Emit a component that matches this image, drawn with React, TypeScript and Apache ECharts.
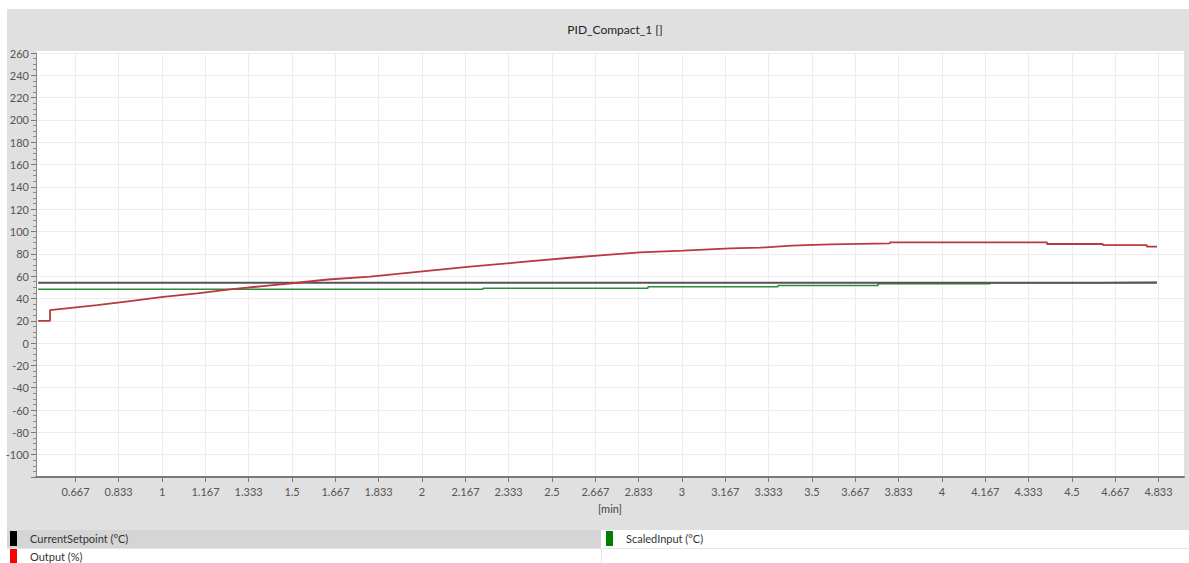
import React, { useEffect, useRef } from "react";
import * as echarts from "echarts";

const chartTitle = "PID_Compact_1 []";
const xAxisName = "[min]";
const seriesNames = ["CurrentSetpoint (°C)", "Output (%)", "ScaledInput (°C)"];

// x tick values (minutes)
const xTickValues = [
  0.667, 0.833, 1, 1.167, 1.333, 1.5, 1.667, 1.833, 2, 2.167, 2.333, 2.5, 2.667, 2.833,
  3, 3.167, 3.333, 3.5, 3.667, 3.833, 4, 4.167, 4.333, 4.5, 4.667, 4.833,
];

// CurrentSetpoint (°C)
const setpointTime = [0.523, 4.827];
const setpointValue = [54, 54];

// Output (%)
const outputTime = [
  0.523, 0.569, 0.569, 0.75, 0.877, 1.004, 1.135, 1.262, 1.388, 1.519, 1.638, 1.8, 1.992,
  2.185, 2.377, 2.569, 2.723, 2.838, 3.004, 3.185, 3.3, 3.423, 3.569, 3.8, 3.8, 4.404, 4.404,
  4.619, 4.619, 4.788, 4.788, 4.827,
];
const outputValue = [
  20, 20, 29.5, 34, 37.7, 41.5, 44.6, 48.2, 51.1, 54.1, 57, 59.5, 64, 68.5, 72.5, 76.5, 79.3,
  81.3, 82.8, 84.9, 85.5, 87.3, 88.5, 89.4, 90.3, 90.3, 88.8, 88.8, 87.9, 87.9, 86.4, 86.4,
];

// ScaledInput (°C)
const inputTime = [
  0.523, 2.235, 2.235, 2.869, 2.869, 3.369, 3.369, 3.754, 3.754, 4.185, 4.185, 4.619, 4.619,
  4.827,
];
const inputValue = [48.3, 48.3, 49.2, 49.2, 50.5, 50.5, 51.6, 51.6, 53.3, 53.3, 54, 54, 54.6, 54.6];

const FONT = "Lato, Roboto, sans-serif";

const zip = (t: number[], v: number[]) => t.map((x, i) => [x, v[i]]);

const fmtX = (v: number) => String(parseFloat(Number(v).toFixed(3)));

export default function App() {
  const ref = useRef<HTMLDivElement>(null);
  useEffect(() => {
    if (!ref.current) return;
    const chart = echarts.init(ref.current, undefined, { renderer: "svg" });
    const legendText = { fontSize: 11, color: "#333", fontFamily: FONT, padding: [0, 0, 0, 8] };
    chart.setOption({
      animation: false,
      backgroundColor: "#ffffff",
      title: {
        text: chartTitle,
        left: 610,
        top: 18,
        textAlign: "center",
        textStyle: { fontSize: 12, fontWeight: "normal", color: "#222", fontFamily: FONT },
      },
      graphic: [
        { type: "rect", z: -2, shape: { x: 7, y: 9, width: 1182, height: 521 }, style: { fill: "#e0e0e0" } },
        { type: "rect", z: -1, shape: { x: 36, y: 51, width: 1148, height: 426 }, style: { fill: "#ffffff" } },
        { type: "rect", z: -1, shape: { x: 7, y: 530, width: 594, height: 18 }, style: { fill: "#d5d5d5" } },
        { type: "rect", z: -1, shape: { x: 601, y: 530, width: 588, height: 18 }, style: { fill: "#ffffff" } },
        { type: "line", z: -1, shape: { x1: 7, y1: 548.5, x2: 1189, y2: 548.5 }, style: { stroke: "#e6e6e6", lineWidth: 1 } },
        { type: "line", z: -1, shape: { x1: 601.5, y1: 548, x2: 601.5, y2: 563 }, style: { stroke: "#e6e6e6", lineWidth: 1 } },
      ],
      legend: [
        {
          data: [{ name: seriesNames[0], itemStyle: { color: "#000000" } }],
          left: 10, top: 531, padding: 0, icon: "rect", itemWidth: 7, itemHeight: 15,
          textStyle: legendText,
        },
        {
          data: [{ name: seriesNames[1], itemStyle: { color: "#ff0000" } }],
          left: 10, top: 549, padding: 0, icon: "rect", itemWidth: 7, itemHeight: 15,
          textStyle: legendText,
        },
        {
          data: [{ name: seriesNames[2], itemStyle: { color: "#008000" } }],
          left: 606, top: 531, padding: 0, icon: "rect", itemWidth: 7, itemHeight: 15,
          textStyle: legendText,
        },
      ],
      grid: { left: 36, right: 5, top: 53, bottom: 563 - 477, containLabel: false },
      xAxis: {
        type: "value",
        min: 0.515,
        max: 4.931,
        name: xAxisName,
        nameLocation: "middle",
        nameGap: 26,
        nameTextStyle: { fontSize: 11, color: "#444", fontFamily: FONT },
        axisLine: { show: true, onZero: false, lineStyle: { color: "#7a7a7a", width: 2 } },
        axisTick: { show: true, length: 5, customValues: xTickValues, lineStyle: { color: "#7a7a7a" } },
        axisLabel: {
          customValues: xTickValues,
          formatter: (v: number) => fmtX(v),
          fontSize: 11,
          color: "#555",
          fontFamily: FONT,
          margin: 9,
        },
        splitLine: { show: true, lineStyle: { color: "#ededed", width: 1 } },
      },
      yAxis: {
        type: "value",
        min: -120,
        max: 260,
        interval: 20,
        axisLine: { show: true, onZero: false, lineStyle: { color: "#8a8a8a", width: 1 } },
        axisTick: { show: true, length: 5, lineStyle: { color: "#7a7a7a" } },
        minorTick: { show: true, splitNumber: 4, length: 3, lineStyle: { color: "#8a8a8a" } },
        axisLabel: { showMinLabel: false, fontSize: 11, color: "#555", fontFamily: FONT, margin: 7 },
        splitLine: { show: true, lineStyle: { color: "#ededed", width: 1 } },
      },
      series: [
        {
          name: seriesNames[2],
          type: "line",
          data: zip(inputTime, inputValue),
          showSymbol: false,
          symbol: "none",
          lineStyle: { color: "#2f8a3a", width: 1.5 },
          itemStyle: { color: "#008000" },
          z: 2,
        },
        {
          name: seriesNames[0],
          type: "line",
          data: zip(setpointTime, setpointValue),
          showSymbol: false,
          symbol: "none",
          lineStyle: { color: "#555555", width: 2 },
          itemStyle: { color: "#000000" },
          z: 3,
        },
        {
          name: seriesNames[1],
          type: "line",
          data: zip(outputTime, outputValue),
          showSymbol: false,
          symbol: "none",
          lineStyle: { color: "#b8393f", width: 1.8 },
          itemStyle: { color: "#ff0000" },
          z: 4,
        },
      ],
    });
    return () => chart.dispose();
  }, []);
  return (
    <div
      ref={ref}
      style={{ position: "fixed", left: 0, top: 0, width: 1189, height: 563 }}
    />
  );
}
